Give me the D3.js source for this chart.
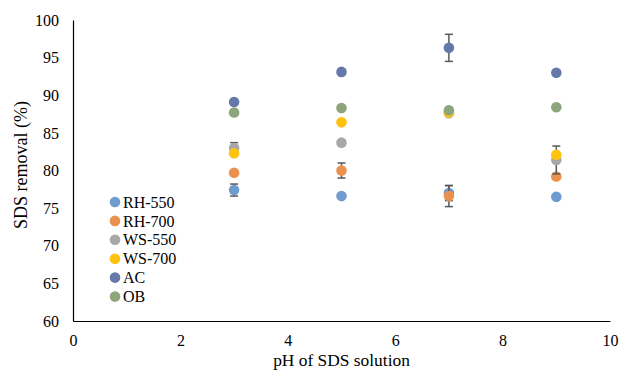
<!DOCTYPE html>
<html>
<head>
<meta charset="utf-8">
<script src="https://cdn.jsdelivr.net/npm/d3@7"></script>
<style>
  body { margin: 0; background: #fff; }
</style>
</head>
<body>
<div id="chart"></div>
<script>
var ph = [3, 5, 7, 9]

var rh550 = [77.4, 76.6, 77.0, 76.5]
var rh700 = [79.7, 80.0, 76.6, 79.2]
var ws550 = [83.0, 83.7, 87.6, 81.4]
var ws700 = [82.3, 86.4, 87.7, 82.1]
var ac = [89.1, 93.1, 96.3, 93.0]
var ob = [87.7, 88.3, 88.0, 88.4]

// error bars (+/-), null = none
var rh550_err = [0.8, null, 1.0, null]
var rh700_err = [null, 1.0, 1.4, null]
var ws550_err = [0.7, null, null, 1.85]
var ac_err = [null, null, 1.8, null]

var xTicks = [0, 2, 4, 6, 8, 10]
var yTicks = [60, 65, 70, 75, 80, 85, 90, 95, 100]

var series = [
  { name: 'RH-550', values: rh550, err: rh550_err, color: '#6F9BD0' },
  { name: 'RH-700', values: rh700, err: rh700_err, color: '#EB914E' },
  { name: 'WS-550', values: ws550, err: ws550_err, color: '#A8A8A8' },
  { name: 'WS-700', values: ws700, err: null, color: '#FFC20E' },
  { name: 'AC', values: ac, err: ac_err, color: '#6479AA' },
  { name: 'OB', values: ob, err: null, color: '#8CA57A' }
]

var font = '"Liberation Serif", "Times New Roman", serif'
var w = 622
var h = 375

var svg = d3.select('#chart').append('svg')
  .attr('width', w)
  .attr('height', h)
  .style('font-family', font)

var x = d3.scaleLinear().domain([0, 10]).range([73, 610])
var y = d3.scaleLinear().domain([60, 100]).range([321, 20])

// axes
var xAxis = svg.append('g')
  .attr('transform', 'translate(0,' + y(60) + ')')
  .call(d3.axisBottom(x).tickValues(xTicks).tickSize(0).tickPadding(14))
xAxis.attr('font-family', null).attr('font-size', null)
xAxis.select('.domain').attr('stroke', '#000').attr('stroke-width', 1.2)
xAxis.selectAll('text').style('font-size', '16px').style('font-family', font)

var yAxis = svg.append('g')
  .attr('transform', 'translate(' + x(0) + ',0)')
  .call(d3.axisLeft(y).tickValues(yTicks).tickSize(0).tickPadding(14))
yAxis.attr('font-family', null).attr('font-size', null)
yAxis.select('.domain').attr('stroke', '#000').attr('stroke-width', 1.2)
yAxis.selectAll('text').style('font-size', '16px').style('font-family', font)

svg.append('text')
  .attr('x', (x(0) + x(10)) / 2)
  .attr('y', 366)
  .attr('text-anchor', 'middle')
  .style('font-size', '17.4px')
  .style('font-family', font)
  .text('pH of SDS solution')

svg.append('text')
  .attr('transform', 'translate(26.5,165) rotate(-90)')
  .attr('text-anchor', 'middle')
  .style('font-size', '18px')
  .style('font-family', font)
  .text('SDS removal (%)')

// points + error bars
series.forEach(function (s) {
  var g = svg.append('g')
  s.values.forEach(function (v, i) {
    var e = s.err ? s.err[i] : null
    if (e) {
      var cx = x(ph[i])
      g.append('line')
        .attr('x1', cx).attr('x2', cx)
        .attr('y1', y(v - e)).attr('y2', y(v + e))
        .attr('stroke', '#595959').attr('stroke-width', 1.5)
      ;[v - e, v + e].forEach(function (ev) {
        g.append('line')
          .attr('x1', cx - 4).attr('x2', cx + 4)
          .attr('y1', y(ev)).attr('y2', y(ev))
          .attr('stroke', '#595959').attr('stroke-width', 1.5)
      })
    }
  })
  g.selectAll('circle').data(s.values).enter().append('circle')
    .attr('cx', function (d, i) { return x(ph[i]) })
    .attr('cy', function (d) { return y(d) })
    .attr('r', 5.3)
    .attr('fill', s.color)
})

// legend
var legend = svg.append('g').attr('transform', 'translate(115,202)')
series.forEach(function (s, i) {
  var row = legend.append('g').attr('transform', 'translate(0,' + (i * 18.9) + ')')
  row.append('circle').attr('r', 5.3).attr('fill', s.color)
  row.append('text')
    .attr('x', 8)
    .attr('dy', '0.35em')
    .style('font-size', '16px')
    .style('font-family', font)
    .text(s.name)
})
</script>
</body>
</html>
